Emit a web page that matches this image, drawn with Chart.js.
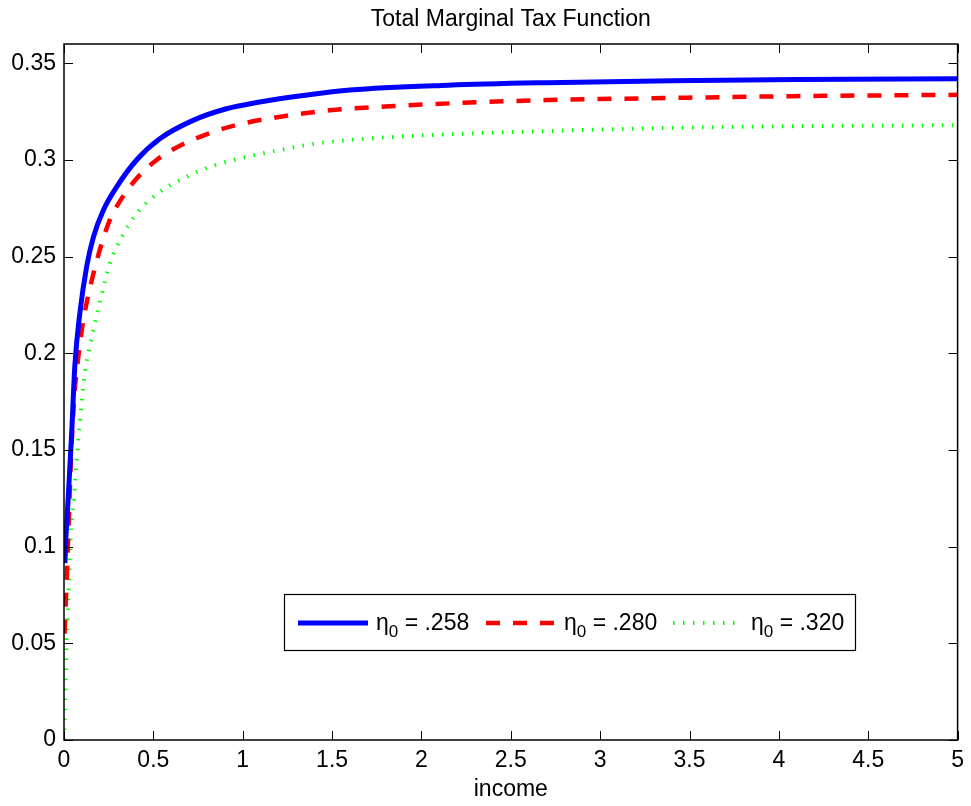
<!DOCTYPE html>
<html>
<head>
<meta charset="utf-8">
<title>Total Marginal Tax Function</title>
<script src="https://cdn.jsdelivr.net/npm/chart.js@4"></script>
<style>
  html, body { margin: 0; padding: 0; background: #fff; }
  canvas { display: block; }
</style>
</head>
<body>
<canvas id="grafico" width="971" height="806"></canvas>
<script>
// Datos (ingreso vs. tasa marginal total)
const ingresoAzul = [0.005, 0.011, 0.024, 0.043, 0.061, 0.089, 0.127, 0.164, 0.22, 0.294, 0.406, 0.536, 0.722, 0.909, 1.095, 1.35, 1.6, 2.15, 2.7, 3.4, 4.1, 5];
const tasaAzul    = [0.0915, 0.105, 0.126, 0.159, 0.194, 0.221, 0.245, 0.260, 0.274, 0.286, 0.300, 0.311, 0.3205, 0.3265, 0.330, 0.3335, 0.3362, 0.3387, 0.340, 0.341, 0.3416, 0.342];

const ingresoRojo = [0.003, 0.018, 0.028, 0.039, 0.056, 0.076, 0.089, 0.108, 0.164, 0.248, 0.322, 0.415, 0.518, 0.63, 0.834, 0.983, 1.15, 1.486, 1.82, 2.268, 2.7, 3.4, 4.07, 5];
const tasaRojo    = [0.055, 0.09, 0.117, 0.145, 0.176, 0.195, 0.205, 0.217, 0.241, 0.267, 0.280, 0.2913, 0.300, 0.3065, 0.3145, 0.3185, 0.3215, 0.3257, 0.3278, 0.3297, 0.331, 0.3321, 0.333, 0.3337];

const ingresoVerde = [0, 0.007, 0.013, 0.019, 0.026, 0.032, 0.043, 0.055, 0.071, 0.089, 0.117, 0.145, 0.2, 0.257, 0.322, 0.406, 0.536, 0.666, 0.816, 0.983, 1.2, 1.41, 1.784, 2.156, 2.715, 3.4, 4.09, 5];
const tasaVerde    = [0, 0.021, 0.047, 0.062, 0.078, 0.093, 0.114, 0.125, 0.145, 0.165, 0.19, 0.204, 0.226, 0.2466, 0.260, 0.2723, 0.2835, 0.2904, 0.2964, 0.3008, 0.305, 0.3085, 0.3116, 0.3133, 0.315, 0.3166, 0.3175, 0.318];

const etaValores = ['.258', '.280', '.320'];
const ticksX = [0, 0.5, 1, 1.5, 2, 2.5, 3, 3.5, 4, 4.5, 5];
const ticksY = [0, 0.05, 0.1, 0.15, 0.2, 0.25, 0.3, 0.35];

const fuente = "'Liberation Sans', Arial, Helvetica, sans-serif";
const tamFuente = 23;

function armarPuntos(xs, ys) {
  return xs.map((x, i) => ({ x: x, y: ys[i] }));
}

// Marco estilo MATLAB: caja completa, ticks hacia adentro y titulo
const marcoMatlab = {
  id: 'marcoMatlab',
  afterDraw(chart) {
    const { ctx, chartArea: a, scales } = chart;
    const largo = 9;
    ctx.save();
    ctx.strokeStyle = '#000';
    ctx.lineWidth = 1.5;
    ctx.strokeRect(a.left, a.top, a.right - a.left, a.bottom - a.top);
    ctx.lineWidth = 1;
    ctx.beginPath();
    ticksX.forEach(v => {
      const px = Math.round(scales.x.getPixelForValue(v)) + 0.5;
      ctx.moveTo(px, a.bottom); ctx.lineTo(px, a.bottom - largo);
      ctx.moveTo(px, a.top); ctx.lineTo(px, a.top + largo);
    });
    ticksY.forEach(v => {
      const py = Math.round(scales.y.getPixelForValue(v)) + 0.5;
      ctx.moveTo(a.left, py); ctx.lineTo(a.left + largo, py);
      ctx.moveTo(a.right, py); ctx.lineTo(a.right - largo, py);
    });
    ctx.stroke();

    // titulo centrado sobre el area del grafico
    ctx.fillStyle = '#000';
    ctx.font = tamFuente + 'px ' + fuente;
    ctx.textAlign = 'center';
    ctx.textBaseline = 'middle';
    ctx.fillText('Total Marginal Tax Function', (a.left + a.right) / 2, 20);
    ctx.restore();
  }
};

// Leyenda con subindice (eta_0)
const leyendaMatlab = {
  id: 'leyendaMatlab',
  afterDraw(chart, args, opts) {
    const { ctx } = chart;
    ctx.save();
    ctx.fillStyle = '#fff';
    ctx.fillRect(opts.left, opts.top, opts.width, opts.height);
    ctx.strokeStyle = '#000';
    ctx.lineWidth = 1.2;
    ctx.strokeRect(opts.left + 0.5, opts.top + 0.5, opts.width, opts.height);

    const yLinea = opts.top + opts.height / 2 + 1;
    chart.data.datasets.forEach((ds, i) => {
      const x0 = opts.itemX[i];
      ctx.beginPath();
      ctx.strokeStyle = ds.borderColor;
      ctx.lineWidth = ds.borderWidth;
      ctx.setLineDash(ds.borderDash || []);
      ctx.moveTo(x0, yLinea);
      ctx.lineTo(x0 + opts.largoLinea, yLinea);
      ctx.stroke();
      ctx.setLineDash([]);

      let xt = x0 + opts.largoLinea + 8;
      const base = yLinea + 7;
      ctx.fillStyle = '#000';
      ctx.textAlign = 'left';
      ctx.textBaseline = 'alphabetic';
      ctx.font = tamFuente + 'px ' + fuente;
      ctx.fillText('η', xt, base);
      xt += ctx.measureText('η').width;
      ctx.font = '17px ' + fuente;
      ctx.fillText('0', xt, base + 7);
      xt += ctx.measureText('0').width;
      ctx.font = tamFuente + 'px ' + fuente;
      ctx.fillText(' = ' + etaValores[i], xt, base);
    });
    ctx.restore();
  }
};

const ctx = document.getElementById('grafico').getContext('2d');
new Chart(ctx, {
  type: 'line',
  data: {
    datasets: [
      {
        label: 'η₀ = ' + etaValores[0],
        data: armarPuntos(ingresoAzul, tasaAzul),
        borderColor: '#0000ff',
        borderWidth: 5
      },
      {
        label: 'η₀ = ' + etaValores[1],
        data: armarPuntos(ingresoRojo, tasaRojo),
        borderColor: '#ff0000',
        borderWidth: 4.5,
        borderDash: [14, 13]
      },
      {
        label: 'η₀ = ' + etaValores[2],
        data: armarPuntos(ingresoVerde, tasaVerde),
        borderColor: '#00ff00',
        borderWidth: 4,
        borderDash: [1.5, 8.5]
      }
    ]
  },
  options: {
    responsive: false,
    animation: false,
    parsing: false,
    layout: { padding: { top: 44, right: 12, left: 0, bottom: 0 } },
    elements: {
      point: { radius: 0 },
      line: { cubicInterpolationMode: 'monotone', borderCapStyle: 'butt', fill: false }
    },
    plugins: {
      legend: { display: false },
      title: { display: false },
      tooltip: { enabled: false },
      leyendaMatlab: {
        left: 284, top: 594, width: 571, height: 56,
        itemX: [298, 486, 673], largoLinea: 70
      }
    },
    scales: {
      x: {
        type: 'linear',
        min: 0, max: 5,
        afterFit: s => { s.height = 66; },
        afterBuildTicks: s => { s.ticks = ticksX.map(v => ({ value: v })); },
        grid: { display: false, drawTicks: false },
        border: { display: false },
        ticks: {
          color: '#000', padding: 7, maxRotation: 0,
          font: { family: fuente, size: tamFuente },
          callback: v => String(v)
        },
        title: {
          display: true, text: 'income', color: '#000',
          font: { family: fuente, size: tamFuente },
          padding: { top: 0, bottom: 3 }
        }
      },
      y: {
        type: 'linear',
        min: 0, max: 0.36,
        afterFit: s => { s.width = 64; },
        afterBuildTicks: s => { s.ticks = ticksY.map(v => ({ value: v })); },
        grid: { display: false, drawTicks: false },
        border: { display: false },
        ticks: {
          color: '#000', padding: 8,
          font: { family: fuente, size: tamFuente },
          callback: v => String(+v.toFixed(2))
        }
      }
    }
  },
  plugins: [marcoMatlab, leyendaMatlab]
});
</script>
</body>
</html>
